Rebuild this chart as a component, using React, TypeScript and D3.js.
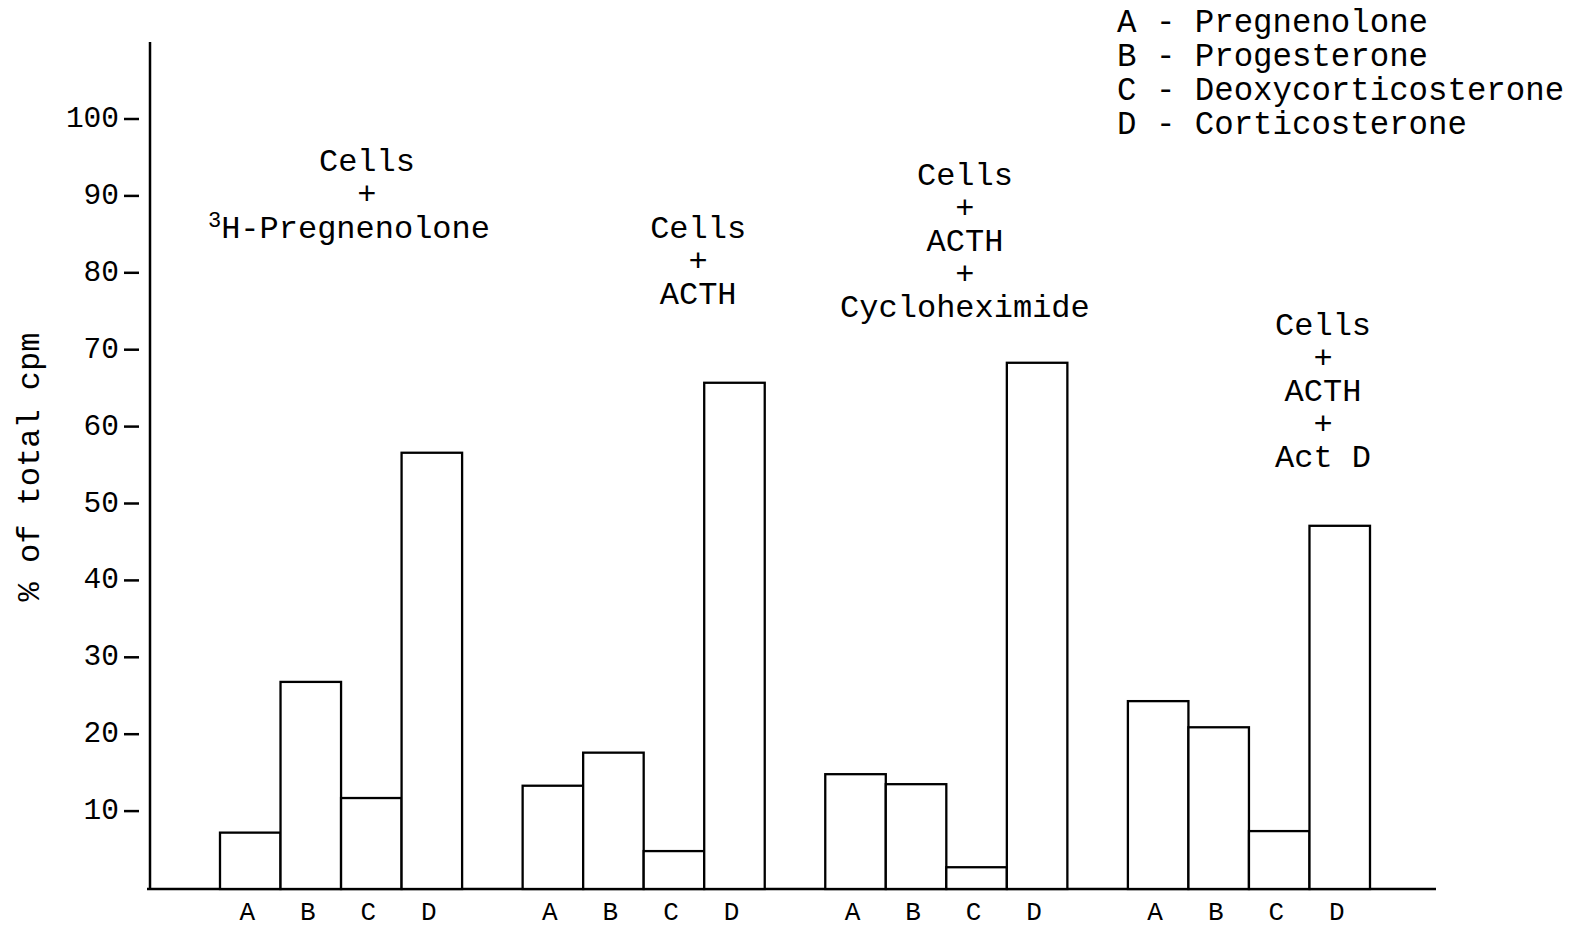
import React from "react";
import * as d3 from "d3";

const groupKeys = ["G1", "G2", "G3", "G4"];
const steroidKeys = ["A", "B", "C", "D"];
const pregnenolone = [7.2, 13.3, 14.8, 24.3];
const progesterone = [26.8, 17.6, 13.5, 20.9];
const deoxycorticosterone = [11.7, 4.8, 2.7, 7.4];
const corticosterone = [56.6, 65.7, 68.3, 47.1];
const yTicks = [10, 20, 30, 40, 50, 60, 70, 80, 90, 100];
const legendLabels = [
  "A - Pregnenolone",
  "B - Progesterone",
  "C - Deoxycorticosterone",
  "D - Corticosterone",
];
const groupLines = [
  ["Cells", "+", "³H-Pregnenolone"],
  ["Cells", "+", "ACTH"],
  ["Cells", "+", "ACTH", "+", "Cycloheximide"],
  ["Cells", "+", "ACTH", "+", "Act D"],
];
const yLabel = "% of total cpm";

// layout of the annotations (fraction along group band, top line value)
const annoFrac = [0.607, 0.725, 0.577, 0.806];
const annoTop = [94.3, 85.6, 92.5, 73.0];

const W = 1570;
const H = 926;
const FONT = "'Courier New', 'Liberation Mono', monospace";

export default function App() {
  const series = [pregnenolone, progesterone, deoxycorticosterone, corticosterone];
  const y = d3.scaleLinear().domain([0, 100]).range([888, 119]);
  const x0 = d3.scaleBand().domain(groupKeys).range([220, 1370]).paddingInner(0.2).paddingOuter(0);
  const x1 = d3.scaleBand().domain(steroidKeys).range([0, x0.bandwidth()]).padding(0);
  const axisX = 150;
  const lineStep = 33;

  return (
    <svg
      width={W}
      height={H}
      style={{ position: "absolute", left: 0, top: 0, background: "#fff" }}
      fontFamily={FONT}
    >
      <rect x={0} y={0} width={W} height={H} fill="#fff" />
      {/* y axis */}
      <line x1={axisX} x2={axisX} y1={42} y2={y(0) + 1} stroke="#000" strokeWidth={2.5} />
      {/* baseline */}
      <line x1={axisX - 3} x2={1436} y1={y(0) + 1} y2={y(0) + 1} stroke="#000" strokeWidth={2.5} />
      {yTicks.map((t) => (
        <g key={t}>
          <line x1={124} x2={139} y1={y(t)} y2={y(t)} stroke="#000" strokeWidth={2.5} />
          <text
            x={119}
            y={y(t)}
            textAnchor="end"
            dominantBaseline="central"
            fontSize={29.5}
            fill="#000"
          >
            {t}
          </text>
        </g>
      ))}
      <text
        transform={`translate(30,${467}) rotate(-90)`}
        textAnchor="middle"
        dominantBaseline="central"
        fontSize={32}
        fill="#000"
      >
        {yLabel}
      </text>
      {groupKeys.map((g, gi) => (
        <g key={g} transform={`translate(${x0(g)},0)`}>
          {steroidKeys.map((s, si) => (
            <g key={s}>
              <rect
                x={x1(s)}
                y={y(series[si][gi])}
                width={x1.bandwidth()}
                height={y(0) + 1 - y(series[si][gi])}
                fill="#fff"
                stroke="#000"
                strokeWidth={2.3}
              />
              <text
                x={(x1(s) as number) + x1.bandwidth() / 2 - 3}
                y={920}
                textAnchor="middle"
                fontSize={26}
                fill="#000"
              >
                {s}
              </text>
            </g>
          ))}
          {groupLines[gi].map((ln, li) => {
            const cx = x0.bandwidth() * annoFrac[gi];
            const cy = y(annoTop[gi]) + li * lineStep;
            if (ln.startsWith("³")) {
              return (
                <text
                  key={li}
                  x={cx - 18}
                  y={cy}
                  textAnchor="middle"
                  dominantBaseline="central"
                  fontSize={32}
                  fill="#000"
                >
                  <tspan fontSize={22} dy={-8}>3</tspan>
                  <tspan dy={8}>{ln.slice(1)}</tspan>
                </text>
              );
            }
            return (
              <text
                key={li}
                x={cx}
                y={cy}
                textAnchor="middle"
                dominantBaseline="central"
                fontSize={32}
                fill="#000"
              >
                {ln}
              </text>
            );
          })}
        </g>
      ))}
      {legendLabels.map((l, i) => (
        <text
          key={l}
          x={1117}
          y={23 + i * 34.3}
          dominantBaseline="central"
          fontSize={32.4}
          fill="#000"
          style={{ whiteSpace: "pre" }}
        >
          {l}
        </text>
      ))}
    </svg>
  );
}
